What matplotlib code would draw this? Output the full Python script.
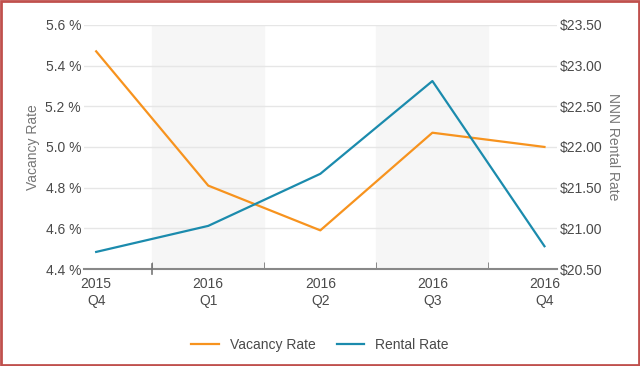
import matplotlib.pyplot as plt
import numpy as np
from matplotlib.patches import Rectangle

plt.rcParams['font.family'] = ['Liberation Sans', 'DejaVu Sans']

quarters = ['2015\nQ4', '2016\nQ1', '2016\nQ2', '2016\nQ3', '2016\nQ4']
vacancy = [5.47, 4.81, 4.59, 5.07, 5.00]
rental = [20.71, 21.03, 21.67, 22.81, 20.78]

orange = '#f7931e'
teal = '#1b8bad'
txt = '#4a4a4a'

fig = plt.figure(figsize=(6.4, 3.66), dpi=100)
ax = fig.add_axes([0.131, 0.265, 0.739, 0.667])
ax2 = ax.twinx()

x = np.arange(len(quarters))
# shaded bands behind alternate quarters
for i in [1, 3]:
    ax.axvspan(i - 0.5, i + 0.5, color='#f6f6f6', zorder=0)

l1, = ax.plot(x, vacancy, color=orange, lw=1.6, zorder=3)
l2, = ax2.plot(x, rental, color=teal, lw=1.6, zorder=3)

ax.set_xlim(-0.11, 4.11)
ax.set_ylim(4.4, 5.6)
ax2.set_ylim(20.5, 23.5)
ax.set_yticks(np.arange(4.4, 5.61, 0.2))
ax.set_yticklabels(['%.1f %%' % v for v in np.arange(4.4, 5.61, 0.2)])
ax2.set_yticks(np.arange(20.5, 23.51, 0.5))
ax2.set_yticklabels(['$%.2f' % v for v in np.arange(20.5, 23.51, 0.5)])

ax.grid(axis='y', color='#e6e6e6', lw=1)
ax.set_xticks(x)
ax.set_xticklabels(quarters)
ax.set_xticks([0.5, 1.5, 2.5, 3.5], minor=True)
ax.tick_params(axis='x', which='major', length=0, pad=6, labelsize=10, colors=txt)
ax.tick_params(axis='x', which='minor', length=5, direction='in', color='#777777')
ax.tick_params(axis='y', length=0, labelsize=10, colors=txt, pad=2)
ax2.tick_params(axis='y', length=0, labelsize=10, colors=txt, pad=2)
# the first divider tick crosses the axis line
ax.plot([0.5, 0.5], [-0.022, 0.022], transform=ax.get_xaxis_transform(),
        color='#777777', lw=1.2, clip_on=False, zorder=4)

for a in (ax, ax2):
    for s in a.spines.values():
        s.set_visible(False)
ax.spines['bottom'].set_visible(True)
ax.spines['bottom'].set_color('#888888')
ax.spines['bottom'].set_linewidth(1.5)

ax.set_ylabel('Vacancy Rate', color='#777777', fontsize=10, labelpad=4)
ax2.set_ylabel('NNN Rental Rate', color='#777777', fontsize=10, rotation=270, labelpad=13)

fig.legend([l1, l2], ['Vacancy Rate', 'Rental Rate'], loc='center', bbox_to_anchor=(0.5, 0.057),
           ncol=2, frameon=False, fontsize=10, handlelength=2.0, columnspacing=1.5,
           labelcolor=txt)

fig.patches.append(Rectangle((0.002, 0.003), 0.996, 0.994, transform=fig.transFigure,
                             fill=False, edgecolor='#c0504d', lw=2))

fig.savefig('out.png', dpi=100)
